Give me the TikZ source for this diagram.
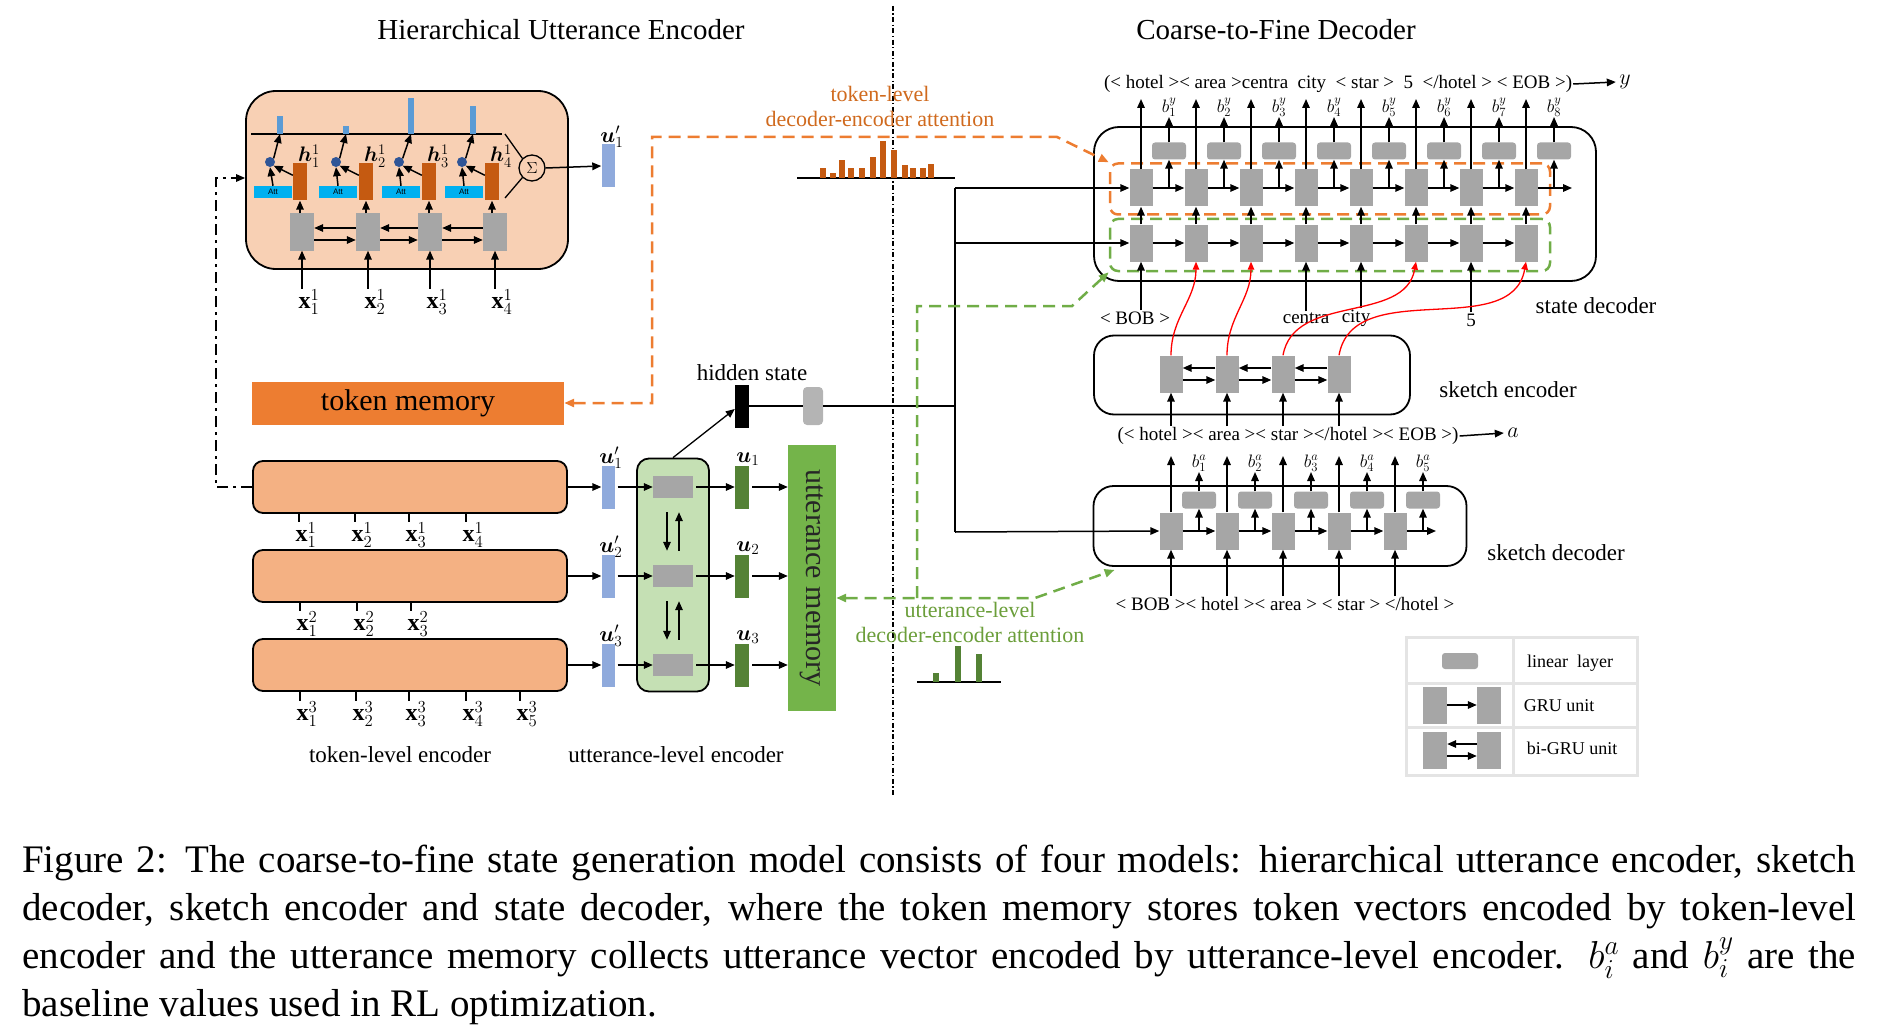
\documentclass[tikz,border=0pt]{standalone}
\usepackage{fix-cm}
\usepackage{fontspec}
\setmainfont{Liberation Serif}
\newfontfamily\attfont{Liberation Sans}
\usepackage{amsmath}
\usepackage{bm}
\usetikzlibrary{arrows.meta,positioning,calc}

\definecolor{encPeach}{HTML}{F8D0B4}
\definecolor{tokPeach}{HTML}{F4B183}
\definecolor{memOrange}{HTML}{ED7D31}
\definecolor{hOrange}{HTML}{C55A11}
\definecolor{dashOrange}{HTML}{ED7D31}
\definecolor{barBlue}{HTML}{5B9BD5}
\definecolor{uBlue}{HTML}{8FAADC}
\definecolor{attCyan}{HTML}{00B0F0}
\definecolor{dotNavy}{HTML}{2F5597}
\definecolor{gruGray}{HTML}{A6A6A6}
\definecolor{hidGray}{HTML}{B4B4B4}
\definecolor{uencGreen}{HTML}{C5E0B4}
\definecolor{uGreen}{HTML}{548235}
\definecolor{memGreen}{HTML}{74B44A}
\definecolor{dashGreen}{HTML}{70AD47}
\definecolor{attTextO}{HTML}{D06A1E}
\definecolor{attTextG}{HTML}{6B9E3A}
\definecolor{legGray}{HTML}{E4E4E4}

% token brackets as printed in the sequences
\newcommand{\tokL}{\textless}
\newcommand{\tokR}{\textgreater}

\tikzset{
  arr/.style={-{Triangle[length=9pt,width=7.5pt]}, line width=1.5pt},
  redarr/.style={-{Triangle[length=8pt,width=6.5pt]}, line width=1.3pt, draw=red},
  cell/.style={fill=gruGray, minimum width=23pt, minimum height=37pt, inner sep=0pt},
  linbox/.style={fill=gruGray, rounded corners=3pt, minimum width=34pt, minimum height=17pt, inner sep=0pt},
  hbox/.style={fill=hOrange, minimum width=14pt, minimum height=37pt, inner sep=0pt},
  attbox/.style={fill=attCyan, minimum width=38pt, minimum height=12pt, inner sep=0pt,
    font=\attfont\fontsize{8}{9}\selectfont},
  attdot/.style={circle, fill=dotNavy, minimum size=10pt, inner sep=0pt},
  ubox/.style={fill=uBlue, minimum width=13pt, minimum height=43pt, inner sep=0pt},
  tokbox/.style={draw, fill=tokPeach, line width=1.8pt, rounded corners=10pt,
    minimum width=314pt, minimum height=52pt},
  panel/.style={draw, line width=1.8pt, rounded corners=20pt, inner sep=0pt},
  title/.style={font=\fontsize{29}{33}\selectfont},
  lbl/.style={font=\fontsize{23}{27}\selectfont},
  tok/.style={font=\fontsize{19}{22}\selectfont, inner sep=1pt},
  blab/.style={font=\fontsize{18}{20}\selectfont, inner sep=0pt},
  xlab/.style={font=\fontsize{24}{26}\selectfont, inner sep=0pt},
  hlab/.style={font=\fontsize{21}{23}\selectfont, inner sep=0pt},
  ulab/.style={font=\fontsize{22}{24}\selectfont, inner sep=0pt},
  legtext/.style={font=\fontsize{18}{20}\selectfont},
  odash/.style={draw=dashOrange, line width=2.5pt, dash pattern=on 12pt off 7pt,
    >={Triangle[length=10pt,width=8pt]}},
  gdash/.style={draw=dashGreen, line width=2.5pt, dash pattern=on 12pt off 7pt,
    >={Triangle[length=10pt,width=8pt]}},
  divider/.style={line width=1.2pt, dash pattern=on 5pt off 2.5pt on 1.2pt off 2.5pt},
  ddline/.style={line width=2.5pt, dash pattern=on 11pt off 5pt on 3pt off 5pt},
  legline/.style={draw=legGray, line width=3pt},
  caption/.style={text width=1834pt, align=justify, inner sep=0pt,
    font=\fontsize{39}{48}\selectfont},
}

\begin{document}
\begin{tikzpicture}[x=1pt,y=-1pt]
\useasboundingbox (0,0) rectangle (1884,1027);

% titles and the divider
\node[title] (ttlenc) at (561,30) {Hierarchical Utterance Encoder};
\node[title] (ttldec) at (1276,30) {Coarse-to-Fine Decoder};
\draw[divider] (893,6) -- (893,795);

% ---- token-level encoder of the first utterance, opened up ----
\node[draw, fill=encPeach, line width=1.8pt, rounded corners=30pt,
  minimum width=322pt, minimum height=178pt] (hue) at (407,180) {};
\draw[line width=1.3pt] (251,134) -- (502,134);
\foreach \i/\cx/\hx/\dx/\ax/\bx/\bh in
  {1/302/300/270/273/280/18, 2/368/366/336/338/346/8,
   3/430/429/399/401/411/36, 4/495/492/462/464/473/28} {
  \node[cell, minimum width=24pt] (hc\i) at (\cx,232) {};
  \node[hbox] (hh\i) at (\hx,182) {};
  \node[attbox] (ha\i) at (\ax,192) {Att};
  \node[attdot] (hd\i) at (\dx,162) {};
  \node[fill=barBlue, minimum width=6pt, minimum height=\bh pt, inner sep=0pt,
    anchor=south] (hb\i) at (\bx,134) {};
  \node[hlab] (hl\i) at (\hx+9,156) {$\bm{h}^1_{\i}$};
  \node[xlab] (hx\i) at (\cx+7,302) {$\mathbf{x}^1_{\i}$};
  \draw[arr] (hx\i.north -| hc\i.south) -- (hc\i.south);
  \draw[arr] (hh\i.south |- hc\i.north) -- (hh\i.south);
  \draw[arr] (ha\i.north) -- (hd\i.south);
  \draw[arr] ([yshift=-12pt]hh\i.north west) -- (hd\i.south east);
  \draw[arr] (hd\i.north east) -- (hb\i.south);
}
\foreach \i/\j in {1/2,2/3,3/4} {
  \draw[arr] ([yshift=4pt]hc\j.west) -- ([yshift=4pt]hc\i.east);
  \draw[arr] ([yshift=-8pt]hc\i.east) -- ([yshift=-8pt]hc\j.west);
}
\node[draw, circle, line width=1.3pt, minimum size=26pt, inner sep=0pt,
  font=\fontsize{16}{18}\selectfont] (sig) at (532,168) {$\Sigma$};
\draw[line width=1.3pt] (505,134) -- (sig.135);
\draw[line width=1.3pt] (sig.225) -- (505,198);
\node[ubox] (uq0) at (608,166) {};
\node[ulab] (uql0) at (612,137) {$\bm{u}'_1$};
\draw[arr] (sig.east) -- (uq0.west);

% ---- memories and utterance-level encoder ----
\node[fill=memOrange, minimum width=312pt, minimum height=43pt, inner sep=0pt,
  font=\fontsize{30}{32}\selectfont] (tmem) at (408,403) {token memory};
\node[fill=memGreen, minimum width=48pt, minimum height=266pt, inner sep=0pt] (umem) at (812,578) {};
\node[rotate=-90, text=black!85, font=\fontsize{30}{32}\selectfont] (umemt) at (812,578) {utterance memory};
\node[draw, fill=uencGreen, line width=1.8pt, rounded corners=12pt,
  minimum width=72pt, minimum height=233pt] (uenc) at (673,575) {};

\foreach \k/\y in {1/487,2/576,3/665} {
  \node[tokbox] (tok\k) at (410,\y) {};
  \node[ubox] (uq\k) at (608,\y) {};
  \node[ulab] (uql\k) at (611,\y-29) {$\bm{u}'_{\k}$};
  \node[cell, minimum width=40pt, minimum height=22pt] (ug\k) at (673,\y) {};
  \node[fill=uGreen, minimum width=14pt, minimum height=43pt, inner sep=0pt] (uu\k) at (742,\y) {};
  \node[ulab] (uul\k) at (748,\y-28) {$\bm{u}_{\k}$};
  \draw[arr] (tok\k.east) -- (uq\k.west);
  \draw[arr, shorten <=3pt] (uq\k.east) -- (ug\k.west);
  \draw[arr, shorten <=3pt] (ug\k.east) -- (uu\k.west);
  \draw[arr, shorten <=3pt] (uu\k.east) -- (uu\k.east -| umem.west);
}
\foreach \i/\j in {1/2,2/3} {
  \draw[arr, shorten <=14pt, shorten >=14pt] ([xshift=-6pt]ug\i.south) -- ([xshift=-6pt]ug\j.north);
  \draw[arr, shorten <=14pt, shorten >=14pt] ([xshift=6pt]ug\j.north) -- ([xshift=6pt]ug\i.south);
}

% words under the token-level encoders
\foreach \j/\tx in {1/299,2/355,3/409,4/466} {
  \node[xlab] (xa\j) at (\tx+7,535) {$\mathbf{x}^1_{\j}$};
  \draw[line width=1.3pt] ([xshift=-7pt]xa\j.north) -- ([xshift=-7pt]xa\j.north |- tok1.south);
}
\foreach \j/\tx in {1/300,2/357,3/411} {
  \node[xlab] (xb\j) at (\tx+7,624) {$\mathbf{x}^2_{\j}$};
  \draw[line width=1.3pt] ([xshift=-7pt]xb\j.north) -- ([xshift=-7pt]xb\j.north |- tok2.south);
}
\foreach \j/\tx in {1/300,2/356,3/409,4/466,5/520} {
  \node[xlab] (xc\j) at (\tx+7,714) {$\mathbf{x}^3_{\j}$};
  \draw[line width=1.3pt] ([xshift=-7pt]xc\j.north) -- ([xshift=-7pt]xc\j.north |- tok3.south);
}
\node[lbl] (tlenc) at (400,755) {token-level encoder};
\node[lbl] (ulenc) at (676,755) {utterance-level encoder};

% first utterance box stands for the opened encoder above
\coordinate (dd1) at (216,487);
\coordinate (dd2) at (216,178);
\draw[ddline, arr] (tok1.west) -- (dd1) -- (dd2) -- (dd2 -| hue.west);

% ---- hidden state into the decoders ----
\node[fill=black, minimum width=14pt, minimum height=43pt, inner sep=0pt] (hid) at (742,406) {};
\node[lbl] (hidl) at (752,373) {hidden state};
\node[fill=hidGray, rounded corners=4pt, minimum width=20pt, minimum height=38pt, inner sep=0pt] (hg) at (813,406) {};
\draw[arr, line width=1.3pt] (uenc.north) -- ([yshift=-3pt]hid.west);
\coordinate (trT) at (955,188);
\coordinate (trH) at (955,406);
\coordinate (trB) at (955,532);
\draw[line width=1.5pt] (hid.east) -- (hg.west);
\draw[line width=1.5pt] (hg.east) -- (trH);
\draw[line width=1.5pt] (trT) -- (trB);

% ---- attention distributions ----
\draw[line width=1.3pt] (797,178) -- (955,178);
\foreach \bx/\bh in {823/10,833/5,842/18,851/10,862/10,873/21,883/37,894/28,905/13,913/10,923/10,931/14}
  \fill[hOrange] (\bx-3,178) rectangle (\bx+3,178-\bh);
\node[lbl, text=attTextO, align=center, font=\fontsize{22}{25}\selectfont] (tlatt) at (880,106)
  {token-level\\decoder-encoder attention};
\draw[line width=1.3pt] (917,682) -- (1001,682);
\foreach \bx/\bh in {936/9,958/36,979/28}
  \fill[uGreen] (\bx-3,682) rectangle (\bx+3,682-\bh);
\node[lbl, text=attTextG, align=center, font=\fontsize{22}{25}\selectfont] (ulatt) at (970,622)
  {utterance-level\\decoder-encoder attention};

% ---- state decoder ----
\node[panel, rounded corners=25pt, minimum width=502pt, minimum height=154pt] (sdbox) at (1345,204) {};
\node[odash, rounded corners=8pt, minimum width=440pt, minimum height=51pt, inner sep=0pt] (obox) at (1330,189) {};
\node[gdash, rounded corners=8pt, minimum width=440pt, minimum height=52pt, inner sep=0pt] (gbox) at (1330,245) {};
\foreach \i in {1,...,8} {
  \pgfmathsetmacro{\cx}{1141+55*(\i-1)}
  \node[cell] (st\i) at (\cx,188) {};
  \node[cell] (sb\i) at (\cx,243) {};
  \node[linbox] (sl\i) at (\cx+28,151) {};
  \coordinate (yt\i) at (\cx,99);
  \node[blab, anchor=south] (by\i) at (\cx+28,117) {$b^y_{\i}$};
  \draw[arr] (sb\i.north) -- (st\i.south);
  \draw[arr] (st\i.north) -- (yt\i);
  \draw[arr] (sl\i.north) -- (by\i.south);
  \draw[arr] (sl\i.south |- st\i.east) -- (sl\i.south);
}
\foreach \i/\j in {1/2,2/3,3/4,4/5,5/6,6/7,7/8} {
  \draw[arr] (st\i.east) -- (st\j.west);
  \draw[arr] (sb\i.east) -- (sb\j.west);
}
\coordinate (stout) at (1572,188);
\draw[arr] (st8.east) -- (stout);
\draw[arr] (trT) -- (st1.west);
\draw[arr] (trT |- sb1.west) -- (sb1.west);
\node[tok] (yseq) at (1338,84) {(\tokL{} hotel \tokR\tokL{} area \tokR centra\ \ city \ \tokL{} star \tokR\ \ 5\ \ \tokL/hotel \tokR\ \tokL{} EOB \tokR)};
\node[font=\fontsize{22}{24}\selectfont] (ylab) at (1625,82) {$y$};
\draw[arr] (yseq.east) -- (ylab.west);
\node[tok] (inbob) at (1135,318) {\tokL{} BOB \tokR};
\node[tok] (incentra) at (1306,318) {centra};
\node[tok] (incity) at (1356,318) {city};
\node[tok] (infive) at (1471,320) {5};
\draw[arr] (inbob.north -| sb1) -- (sb1.south);
\draw[arr] (incentra.north -| sb4) -- (sb4.south);
\draw[arr] (incity.north -| sb5) -- (sb5.south);
\draw[arr] (infive.north -| sb7) -- (sb7.south);
\node[lbl] (sdl) at (1596,306) {state decoder};

% ---- sketch encoder ----
\node[panel, minimum width=316pt, minimum height=79pt] (sebox) at (1252,375) {};
\foreach \i in {1,...,4} {
  \pgfmathsetmacro{\cx}{1171+56*(\i-1)}
  \node[cell] (se\i) at (\cx,374) {};
}
\foreach \i/\j in {1/2,2/3,3/4} {
  \draw[arr] ([yshift=6pt]se\j.west) -- ([yshift=6pt]se\i.east);
  \draw[arr] ([yshift=-6pt]se\i.east) -- ([yshift=-6pt]se\j.west);
}
\node[tok] (aseq) at (1288,436) {(\tokL{} hotel \tokR\tokL{} area \tokR\tokL{} star \tokR\tokL/hotel \tokR\tokL{} EOB \tokR)};
\node[font=\fontsize{22}{24}\selectfont] (alab) at (1513,433) {$a$};
\draw[arr] (aseq.east) -- (alab.west);
\foreach \i in {1,...,4}
  \draw[arr] (aseq.north -| se\i) -- (se\i.south);
\node[lbl] (sel) at (1508,390) {sketch encoder};
\draw[redarr] (se1.north) to[out=90,in=-90] (sb2.south);
\draw[redarr] (se2.north) to[out=90,in=-90] (sb3.south);
\draw[redarr] (se3.north) to[out=80,in=-100] (sb6.south);
\draw[redarr] (se4.north) to[out=80,in=-100] (sb8.south);

% ---- sketch decoder ----
\node[panel, minimum width=373pt, minimum height=80pt] (skbox) at (1280,526) {};
\node[tok] (inseq) at (1285,604) {\tokL{} BOB \tokR\tokL{} hotel \tokR\tokL{} area \tokR\ \tokL{} star \tokR\ \tokL/hotel \tokR};
\foreach \i in {1,...,5} {
  \pgfmathsetmacro{\cx}{1171+56*(\i-1)}
  \node[cell] (sk\i) at (\cx,531) {};
  \node[linbox] (skl\i) at (\cx+28,500) {};
  \coordinate (at\i) at (\cx,456);
  \node[blab, anchor=south] (ba\i) at (\cx+28,472) {$b^a_{\i}$};
  \draw[arr] (sk\i.north) -- (at\i);
  \draw[arr] (skl\i.north) -- (ba\i.south);
  \draw[arr] (skl\i.south |- sk\i.east) -- (skl\i.south);
  \draw[arr] (inseq.north -| sk\i) -- (sk\i.south);
}
\foreach \i/\j in {1/2,2/3,3/4,4/5}
  \draw[arr] (sk\i.east) -- (sk\j.west);
\coordinate (skout) at (1436,531);
\draw[arr] (sk5.east) -- (skout);
\draw[arr] (trB) -- (sk1.west);
\node[lbl] (skdl) at (1556,553) {sketch decoder};

% ---- attention paths ----
\coordinate (oa) at (652,403);
\coordinate (ob) at (652,137);
\coordinate (oc) at (1057,137);
\draw[odash, <->] (tmem.east) -- (oa) -- (ob) -- (oc) -- (obox.north west);
\coordinate (ga) at (1035,598);
\coordinate (gv) at (917,598);
\coordinate (gt) at (917,306);
\coordinate (gu) at (1072,306);
\draw[gdash, <->] (umem.east |- ga) -- (ga) -- ($(skbox.south west)+(22,3)$);
\draw[gdash, ->] (gv) -- (gt) -- (gu) -- (gbox.south west);

% ---- legend ----
\draw[legline] (1406,637) rectangle (1637,775);
\draw[legline] (1513,637) -- (1513,775);
\draw[legline] (1406,683) -- (1637,683);
\draw[legline] (1406,727) -- (1637,727);
\node[linbox, minimum width=36pt, minimum height=16pt] (lglin) at (1460,661) {};
\node[cell, minimum width=24pt] (lgg1) at (1435,705) {};
\node[cell, minimum width=24pt] (lgg2) at (1489,705) {};
\draw[arr] (lgg1.east) -- (lgg2.west);
\node[cell, minimum width=24pt] (lgb1) at (1435,750) {};
\node[cell, minimum width=24pt] (lgb2) at (1489,750) {};
\draw[arr] ([yshift=6pt]lgb2.west) -- ([yshift=6pt]lgb1.east);
\draw[arr] ([yshift=-6pt]lgb1.east) -- ([yshift=-6pt]lgb2.west);
\node[legtext] (lgt1) at (1570,663) {linear\ \ layer};
\node[legtext] (lgt2) at (1559,706) {GRU unit};
\node[legtext] (lgt3) at (1572,748) {bi-GRU unit};

% ---- caption ----
\node[caption, anchor=north west] (cap) at (22,845) {\hyphenpenalty=10000\relax
\exhyphenpenalty=10000\relax
Figure 2: The coarse-to-fine state generation model consists of four models: hierarchical utterance encoder, sketch\linebreak
decoder, sketch encoder and state decoder, where the token memory stores token vectors encoded by token-level\linebreak
encoder and the utterance memory collects utterance vector encoded by utterance-level encoder. $b^a_i$ and $b^y_i$ are the\linebreak
baseline values used in RL optimization.};
\end{tikzpicture}
\end{document}
